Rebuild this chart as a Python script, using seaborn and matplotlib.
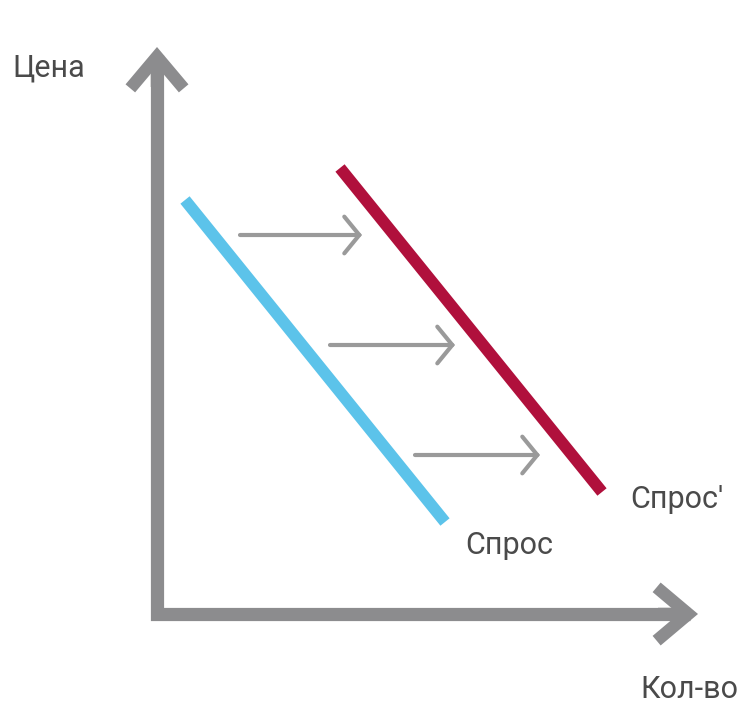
import numpy as np
import pandas as pd
import seaborn as sns
import matplotlib.pyplot as plt

# Demand curves (quantity, price) in chart units, origin at the axes corner
demand_q = [28, 288]
demand_p = [414, 92]
demand2_q = [183, 445]
demand2_p = [446, 122]

# Horizontal shift arrows: start quantity, end quantity, price level
shift_from = [83, 173, 258]
shift_to = [205, 298, 383]
shift_price = [379, 269, 159]

axis_q_max = 541
axis_p_max = 567

sns.set_theme(style="white")
plt.rcParams['font.family'] = ['Roboto', 'DejaVu Sans']

df = pd.DataFrame({
    'q': demand_q + demand2_q,
    'p': demand_p + demand2_p,
    'curve': ['Спрос'] * 2 + ["Спрос'"] * 2,
})

fig = plt.figure(figsize=(7.45, 7.16), dpi=100)
ax = fig.add_axes([0, 0, 1, 1])

axis_col = '#8c8c8e'
text_col = '#4a4a4a'

# axes body
ax.plot([0, 0, axis_q_max - 8], [axis_p_max - 8, 0, 0], color=axis_col, lw=9.5,
        solid_joinstyle='miter', solid_capstyle='butt', zorder=1)
# axis arrowheads
for tip, base in [((0, axis_p_max), (0, axis_p_max - 40)),
                  ((axis_q_max, 0), (axis_q_max - 40, 0))]:
    ax.annotate('', xy=tip, xytext=base,
                arrowprops=dict(arrowstyle='->,head_length=1.9,head_width=1.6',
                                color=axis_col, lw=9, shrinkA=0, shrinkB=0,
                                joinstyle='miter', capstyle='butt'))

sns.lineplot(data=df, x='q', y='p', hue='curve', palette=['#5cc3ea', '#b0103c'],
             lw=8.5, legend=False, ax=ax, solid_capstyle='butt', zorder=3)

for a, b, p in zip(shift_from, shift_to, shift_price):
    ax.annotate('', xy=(b, p), xytext=(a, p),
                arrowprops=dict(arrowstyle='->,head_length=0.9,head_width=1.1',
                                color='#9a9a9a', lw=3, shrinkA=0, shrinkB=0,
                                joinstyle='miter'))

fs = 22
ax.text(-145, 546, 'Цена', fontsize=fs, color=text_col, va='center', ha='left')
ax.text(308, 69, 'Спрос', fontsize=fs, color=text_col, va='center', ha='left')
ax.text(473, 114, "Спрос'", fontsize=fs, color=text_col, va='center', ha='left')
ax.text(483, -76, 'Кол-во', fontsize=fs, color=text_col, va='center', ha='left')

ax.set_xlim(-157, 588)
ax.set_ylim(-102, 614)
ax.axis('off')

fig.savefig('out.png', dpi=100)
